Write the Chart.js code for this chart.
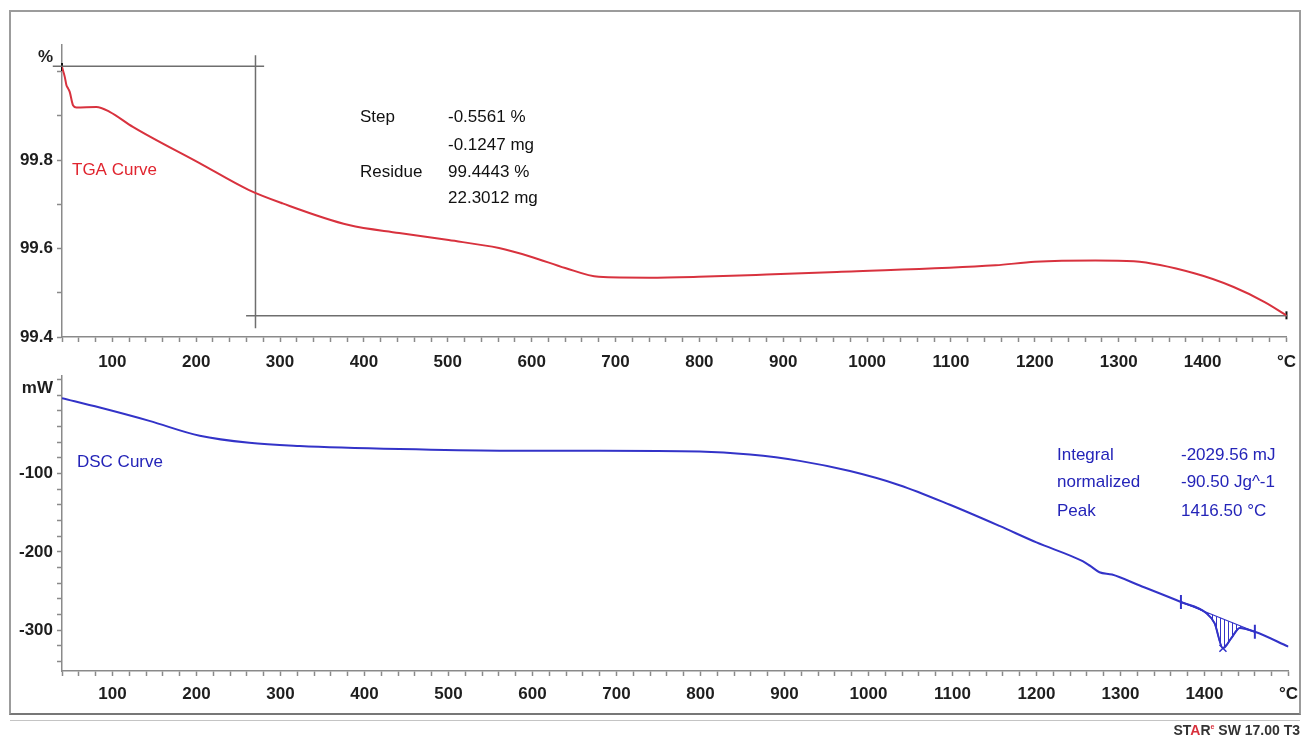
<!DOCTYPE html>
<html>
<head>
<meta charset="utf-8">
<script src="https://cdn.jsdelivr.net/npm/chart.js@4.4.1/dist/chart.umd.min.js"></script>
<style>
  html, body { margin: 0; padding: 0; background: #fff; width: 1306px; height: 741px; overflow: hidden; }
  #frame { position: absolute; left: 9px; top: 10px; width: 1292px; height: 705px; border: 2px solid #9c9c9c; border-bottom-color: #777; box-sizing: border-box; }
  #under { position: absolute; left: 10px; top: 720px; width: 1290px; height: 0; border-top: 1px solid #c4c4c4; }
  canvas { position: absolute; left: 0; }
  #tga { top: 0; }
  #dsc { top: 362px; }
  #brand { position: absolute; right: 6px; top: 722px; font: bold 14px "Liberation Sans", Arial, sans-serif; color: #333; }
  #brand .r { color: #d8303c; }
  #brand sup { font-size: 7px; color: #d8303c; }
</style>
</head>
<body>
<div id="frame"></div>
<div id="under"></div>
<canvas id="tga" width="1306" height="372"></canvas>
<canvas id="dsc" width="1306" height="379"></canvas>
<div id="brand">ST<span class="r">A</span>R<sup>e</sup> SW 17.00 T3</div>
<script>
// temperature axis (°C)
const tempMin = 40;
const tempMax = 1500;

// TGA curve (mass %)
const tgaTemp = [40, 43.3, 45.3, 47.2, 49.2, 53.1, 57.2, 81, 96.8, 124.5, 204, 263, 303, 382, 442, 501, 561, 600, 640, 680, 740, 799, 880, 964, 1153, 1200, 1272, 1318, 1390, 1437, 1474, 1500];
const tgaMass = [100.01, 99.988, 99.969, 99.962, 99.954, 99.924, 99.919, 99.920, 99.909, 99.875, 99.793, 99.732, 99.702, 99.653, 99.635, 99.619, 99.601, 99.581, 99.556, 99.536, 99.534, 99.536, 99.541, 99.547, 99.562, 99.570, 99.573, 99.571, 99.544, 99.513, 99.479, 99.449];

// step evaluation lines
const stepTopTemp = [29, 281];
const stepTopMass = [100.012, 100.012];
const stepVertTemp = [270.7, 270.7];
const stepVertMass = [100.037, 99.42];
const stepLowTemp = [259.5, 1501];
const stepLowMass = [99.448, 99.448];

// DSC curve (mW)
const dscTemp = [40, 85, 144, 204, 263, 323, 442, 561, 680, 799, 859, 918, 978, 1037, 1097, 1156, 1200, 1255, 1264, 1275, 1290, 1323, 1372, 1402, 1412, 1422, 1432, 1442, 1460, 1500];
const dscHeat = [-4, -16, -33, -52, -61, -65, -69, -71, -71, -72, -76, -84, -97, -115, -140, -167, -188, -212, -218, -226, -229, -243, -264, -278, -291, -323, -310, -297, -302, -321];

// peak integration limits and tip
const peakLimitTemp = [1372, 1460];
const peakLimitHeat = [-264, -302];
const peakTipTemp = 1422;
const peakTipHeat = -323;

const FONT = '"Liberation Sans", Arial, sans-serif';
const pts = (xs, ys) => xs.map((x, i) => ({ x: x, y: ys[i] }));

const textPlugin = {
  id: 'texts',
  afterDraw(chart, args, opts) {
    const ctx = chart.ctx;
    ctx.save();
    ctx.textBaseline = 'middle';
    opts.items.forEach(t => {
      ctx.font = t.font;
      ctx.fillStyle = t.color;
      ctx.textAlign = t.align || 'left';
      ctx.fillText(t.text, t.x, t.y);
    });
    ctx.restore();
  }
};

function xAxis(labelPad) {
  return {
    type: 'linear', min: tempMin, max: tempMax,
    border: { color: '#8a8a8a', width: 1.5 },
    grid: { drawOnChartArea: false, tickLength: 5, color: '#8a8a8a', tickWidth: 1.5 },
    ticks: {
      stepSize: 20, autoSkip: false, maxRotation: 0, padding: labelPad, color: '#1e1e1e',
      font: { family: FONT, size: 17, weight: 'bold' },
      callback: v => v === tempMax ? '°C' : (v % 100 === 0 ? String(v) : '')
    },
    afterFit: s => { s.height = labelPad === 10 ? 35 : 70; }
  };
}

function hatch(color) {
  const c = document.createElement('canvas');
  c.width = 4; c.height = 4;
  const g = c.getContext('2d');
  g.strokeStyle = color; g.lineWidth = 1;
  g.beginPath(); g.moveTo(0.5, 0); g.lineTo(0.5, 4); g.stroke();
  return g.createPattern(c, 'repeat');
}

const red = '#d8323e';
const blue = '#3333c8';
const gray = '#6e6e6e';

new Chart(document.getElementById('tga'), {
  type: 'scatter',
  data: {
    datasets: [
      { data: pts(tgaTemp, tgaMass), showLine: true, borderColor: red, borderWidth: 2, pointRadius: 0, cubicInterpolationMode: 'monotone' },
      { data: pts(stepTopTemp, stepTopMass), showLine: true, borderColor: gray, borderWidth: 1.5, pointRadius: 0, clip: false },
      { data: pts(stepVertTemp, stepVertMass), showLine: true, borderColor: gray, borderWidth: 1.5, pointRadius: 0, clip: false },
      { data: pts(stepLowTemp, stepLowMass), showLine: true, borderColor: gray, borderWidth: 1.5, pointRadius: 0, clip: false },
      { data: pts([tgaTemp[0], tgaTemp[tgaTemp.length - 1]], [tgaMass[0], tgaMass[tgaMass.length - 1]]), showLine: false,
        pointStyle: 'line', rotation: 90, pointRadius: 4, borderColor: '#111', borderWidth: 2, clip: false }
    ]
  },
  options: {
    responsive: false, animation: false, events: [],
    layout: { padding: { top: 45, right: 16, left: 0, bottom: 0 } },
    plugins: {
      legend: { display: false }, tooltip: { enabled: false },
      texts: { items: [
        { text: '%', x: 53, y: 57, align: 'right', font: 'bold 17px ' + FONT, color: '#1e1e1e' },
        { text: 'TGA Curve', x: 72, y: 170, font: '17px ' + FONT, color: '#e0252f' },
        { text: 'Step', x: 360, y: 117, font: '17px ' + FONT, color: '#111' },
        { text: '-0.5561 %', x: 448, y: 117, font: '17px ' + FONT, color: '#111' },
        { text: '-0.1247 mg', x: 448, y: 145, font: '17px ' + FONT, color: '#111' },
        { text: 'Residue', x: 360, y: 172, font: '17px ' + FONT, color: '#111' },
        { text: '99.4443 %', x: 448, y: 172, font: '17px ' + FONT, color: '#111' },
        { text: '22.3012 mg', x: 448, y: 198, font: '17px ' + FONT, color: '#111' }
      ] }
    },
    scales: {
      x: xAxis(10),
      y: {
        min: 99.4, max: 100.06,
        border: { color: '#8a8a8a', width: 1.5 },
        grid: { drawOnChartArea: false, tickLength: 5, color: '#8a8a8a', tickWidth: 1.5 },
        ticks: {
          stepSize: 0.1, includeBounds: false, autoSkip: false, padding: 4, color: '#1e1e1e',
          font: { family: FONT, size: 17, weight: 'bold' },
          callback: v => { const r = Math.round(v * 10); return (r % 2 === 0 && r < 1000) ? v.toFixed(1) : ''; }
        },
        afterFit: s => { s.width = 62; }
      }
    }
  },
  plugins: [textPlugin]
});

const peakPts = pts(dscTemp, dscHeat).filter(p => p.x >= peakLimitTemp[0] && p.x <= peakLimitTemp[1]);

new Chart(document.getElementById('dsc'), {
  type: 'scatter',
  data: {
    datasets: [
      { data: pts(dscTemp, dscHeat), showLine: true, borderColor: blue, borderWidth: 2, pointRadius: 0, cubicInterpolationMode: 'monotone' },
      { data: pts(peakLimitTemp, peakLimitHeat), showLine: true, borderColor: blue, borderWidth: 1.2, pointRadius: 0 },
      { data: peakPts, showLine: true, borderColor: blue, borderWidth: 1.5, pointRadius: 0, cubicInterpolationMode: 'monotone',
        fill: '-1', backgroundColor: hatch(blue) },
      { data: pts(peakLimitTemp, peakLimitHeat), showLine: false, pointStyle: 'line', rotation: 90, pointRadius: 7, borderColor: blue, borderWidth: 2 },
      { data: [{ x: peakTipTemp, y: peakTipHeat }], showLine: false, pointStyle: 'crossRot', pointRadius: 5, borderColor: blue, borderWidth: 1.5 }
    ]
  },
  options: {
    responsive: false, animation: false, events: [],
    layout: { padding: { top: 3, right: 16, left: 0, bottom: 0 } },
    plugins: {
      legend: { display: false }, tooltip: { enabled: false },
      texts: { items: [
        { text: 'mW', x: 53, y: 26, align: 'right', font: 'bold 17px ' + FONT, color: '#1e1e1e' },
        { text: 'DSC Curve', x: 77, y: 100, font: '17px ' + FONT, color: '#2424b8' },
        { text: 'Integral', x: 1057, y: 93, font: '17px ' + FONT, color: '#2424b8' },
        { text: 'normalized', x: 1057, y: 120, font: '17px ' + FONT, color: '#2424b8' },
        { text: 'Peak', x: 1057, y: 149, font: '17px ' + FONT, color: '#2424b8' },
        { text: '-2029.56 mJ', x: 1181, y: 93, font: '17px ' + FONT, color: '#2424b8' },
        { text: '-90.50 Jg^-1', x: 1181, y: 120, font: '17px ' + FONT, color: '#2424b8' },
        { text: '1416.50 °C', x: 1181, y: 149, font: '17px ' + FONT, color: '#2424b8' }
      ] }
    },
    scales: {
      x: xAxis(8),
      y: {
        min: -352, max: 24,
        border: { color: '#8a8a8a', width: 1.5 },
        grid: { drawOnChartArea: false, tickLength: 5, color: '#8a8a8a', tickWidth: 1.5 },
        ticks: {
          stepSize: 20, includeBounds: false, autoSkip: false, padding: 4, color: '#1e1e1e',
          font: { family: FONT, size: 17, weight: 'bold' },
          callback: v => (v < 0 && v % 100 === 0) ? String(v) : ''
        },
        afterFit: s => { s.width = 62; }
      }
    }
  },
  plugins: [textPlugin]
});
</script>
</body>
</html>
